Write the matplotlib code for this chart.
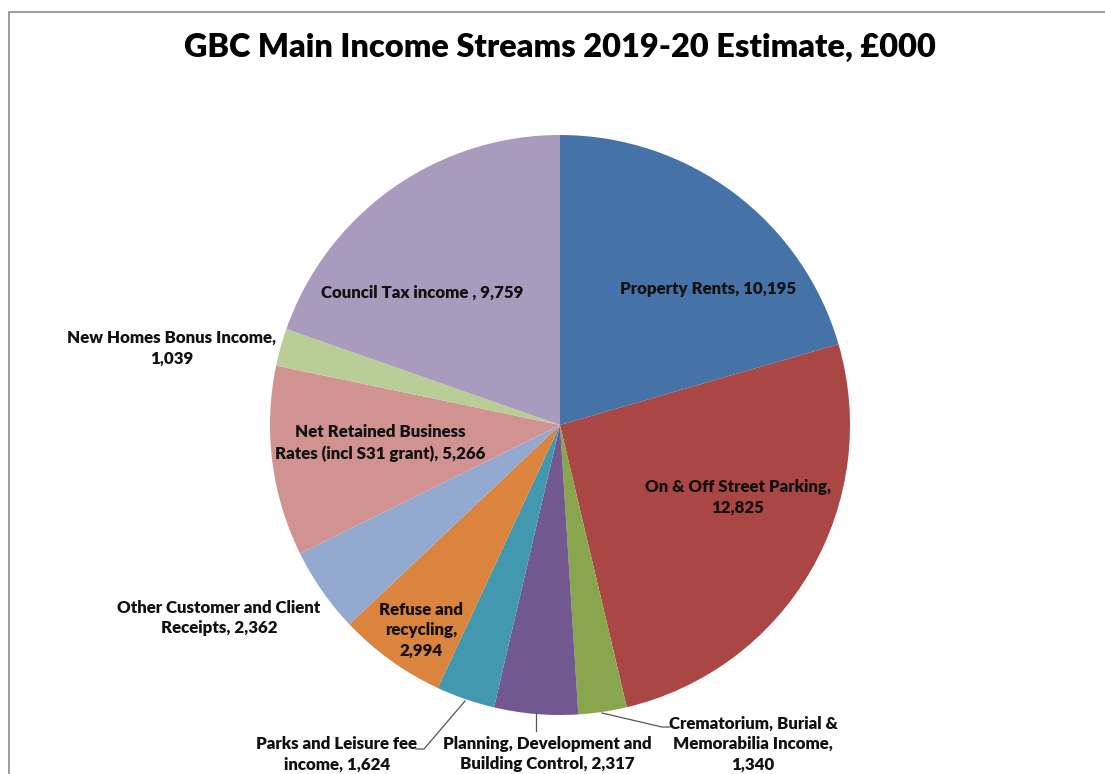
import matplotlib
matplotlib.use("Agg")
import matplotlib.pyplot as plt

categories = [
    "Property Rents",
    "On & Off Street Parking",
    "Crematorium, Burial & Memorabilia Income",
    "Planning, Development and Building Control",
    "Parks and Leisure fee income",
    "Refuse and recycling",
    "Other Customer and Client Receipts",
    "Net Retained Business Rates (incl S31 grant)",
    "New Homes Bonus Income",
    "Council Tax income ",
]
values = [10195, 12825, 1340, 2317, 1624, 2994, 2362, 5266, 1039, 9759]
colors = ["#4572A7", "#AA4643", "#89A54E", "#71588F", "#4198AF",
          "#DB843D", "#93A9CF", "#D19392", "#B9CD96", "#A99BBD"]

# label text templates (line breaks) and placement in pixel coordinates
label_fmt = [
    "Property Rents, {v}",
    "On & Off Street Parking,\n{v}",
    "Crematorium, Burial &\nMemorabilia Income,\n{v}",
    "Planning, Development and\nBuilding Control, {v}",
    "Parks and Leisure fee\nincome, {v}",
    "Refuse and\nrecycling,\n{v}",
    "Other Customer and Client\nReceipts, {v}",
    "Net Retained Business\nRates (incl S31 grant), {v}",
    "New Homes Bonus Income,\n{v}",
    "Council Tax income , {v}",
]
label_pos = [(708, 289), (738, 497), (753, 744), (547, 754), (337, 754),
             (421, 630), (219, 618), (380, 443), (172, 348), (422, 293)]

W, H = 1105, 774
fig = plt.figure(figsize=(W / 100, H / 100), dpi=100)
ax = fig.add_axes([0, 0, 1, 1])

font = ["Lato", "DejaVu Sans"]

ax.pie(values, colors=colors, startangle=90, counterclock=False,
       center=(560, H - 425), radius=290,
       wedgeprops=dict(linewidth=0))

ax.set_xlim(0, W)
ax.set_ylim(0, H)
ax.set_aspect("equal")
ax.axis("off")

for name, fmt, v, (px, py) in zip(categories, label_fmt, values, label_pos):
    ax.text(px, H - py, fmt.format(v=f"{v:,}"), ha="center", va="center",
            fontsize=12.2, fontweight="heavy", family=font, color="#111111",
            linespacing=1.34)

# leader lines for the small bottom slices
leaders = [
    [(465, 701), (424, 749), (416, 749)],
    [(536, 713), (536, 731)],
    [(602, 713), (662, 727), (670, 727)],
]
for pts in leaders:
    xs = [p[0] for p in pts]
    ys = [H - p[1] for p in pts]
    ax.plot(xs, ys, color="#555555", linewidth=0.9)

ax.text(560, H - 47, "GBC Main Income Streams 2019-20 Estimate, £000",
        ha="center", va="center", fontsize=23.4, fontweight="heavy",
        family=font, color="black")

# chart area border
ax.plot([9, 9, W], [0, H - 12, H - 12], color="#8c8c8c", linewidth=1.2,
        clip_on=False)

fig.savefig("out.png", dpi=100)
